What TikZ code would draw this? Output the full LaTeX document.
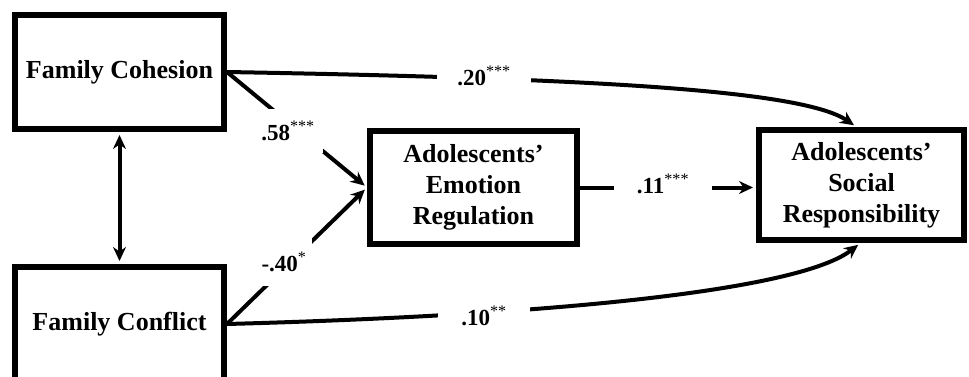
\documentclass[tikz,border=0pt]{standalone}
\usepackage{fontspec}
\setmainfont{Liberation Serif}
\usetikzlibrary{arrows.meta}
\begin{document}
\begin{tikzpicture}[x=1pt,y=-1pt,
  var/.style={draw, line width=6pt, align=center, inner sep=0pt,
    font=\fontsize{26}{31}\selectfont\bfseries},
  conn/.style={line width=4pt},
  tip/.style={-{Stealth[length=14pt,width=13pt]}, shorten >=3pt},
  coef/.style={fill=white, inner xsep=4pt, inner ysep=4pt,
    font=\fontsize{23}{27}\selectfont\bfseries}]
\useasboundingbox (0,0) rectangle (969,377);

% variables
\node[var, minimum width=209pt, minimum height=114pt] (coh) at (119.5,72) {Family Cohesion};
\node[var, minimum width=209pt, minimum height=114pt] (con) at (119.5,324) {Family Conflict};
\node[var, minimum width=207pt, minimum height=113pt] (emo) at (473.5,187.5) {Adolescents’\\Emotion\\Regulation};
\node[var, minimum width=205pt, minimum height=110pt] (soc) at (861.5,185) {Adolescents’\\Social\\Responsibility};

% correlation between the family measures
\draw[conn, {Stealth[length=14pt,width=13pt]}-{Stealth[length=14pt,width=13pt]}, shorten <=3pt, shorten >=3pt]
  (coh.south) -- (con.north);

% paths
\draw[conn, tip] (coh.east) -- (emo.west);
\draw[conn, tip] (con.east) -- (emo.west);
\draw[conn, tip] (emo.east) -- (emo.east -| soc.west);
\draw[conn, tip] (coh.east) .. controls (560,78) and (800,88) .. ([xshift=-5pt]soc.north);
\draw[conn, tip] (con.east) .. controls (560,315) and (800,290) .. ([xshift=-1pt]soc.south);

% coefficients
\node[coef, inner xsep=8pt, inner ysep=12pt] (b1) at (288,131) {.58\textsuperscript{\mdseries ***}};
\node[coef, inner xsep=6pt, inner ysep=14pt] (b2) at (284,262) {-.40\textsuperscript{\mdseries *}};
\node[coef, inner xsep=20pt] (b3) at (484,76) {.20\textsuperscript{\mdseries ***}};
\node[coef, inner xsep=23pt] (b4) at (663,184) {.11\textsuperscript{\mdseries ***}};
\node[coef, inner xsep=23pt] (b5) at (484,316) {.10\textsuperscript{\mdseries **}};
\end{tikzpicture}
\end{document}
